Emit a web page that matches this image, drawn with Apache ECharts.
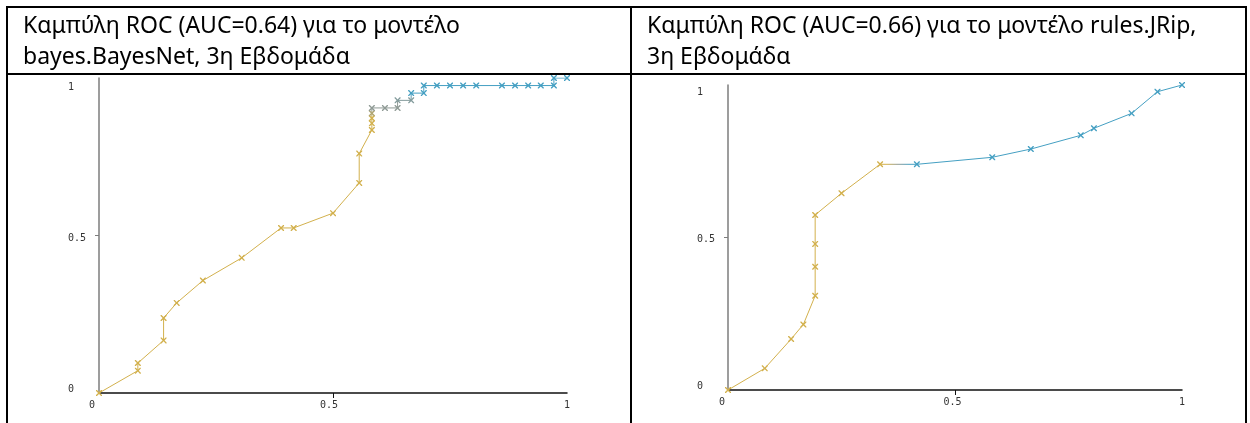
<!DOCTYPE html>
<html>
<head>
<meta charset="utf-8">
<script src="https://cdn.jsdelivr.net/npm/echarts@6/dist/echarts.min.js"></script>
<style>
  html, body { margin: 0; padding: 0; background: #fff; }
  #chart { width: 1250px; height: 423px; }
</style>
</head>
<body>
<div id="chart"></div>
<script>
// Cell headings
const bayesTitle = 'Καμπύλη ROC (AUC=0.64) για το μοντέλο\nbayes.BayesNet, 3η Εβδομάδα';
const jripTitle = 'Καμπύλη ROC (AUC=0.66) για το μοντέλο rules.JRip,\n3η Εβδομάδα';

// Axis ticks shared by both plots
const axisTickValues = [0, 0.5, 1];

// bayes.BayesNet threshold curve (false positive rate, true positive rate)
const bayesFpr = [0, 0.083, 0.083, 0.138, 0.138, 0.166, 0.222, 0.305, 0.389, 0.416, 0.5, 0.556, 0.556,
  0.583, 0.583, 0.583, 0.583, 0.583, 0.611, 0.638, 0.638, 0.667, 0.667, 0.694, 0.694, 0.722, 0.75,
  0.778, 0.806, 0.861, 0.889, 0.917, 0.944, 0.972, 0.972, 1];
const bayesTpr = [0, 0.071, 0.095, 0.167, 0.238, 0.286, 0.357, 0.429, 0.524, 0.524, 0.571, 0.667, 0.76,
  0.835, 0.856, 0.872, 0.888, 0.905, 0.905, 0.905, 0.929, 0.929, 0.952, 0.952, 0.976, 0.976, 0.976,
  0.976, 0.976, 0.976, 0.976, 0.976, 0.976, 0.976, 1, 1];

// rules.JRip threshold curve
const jripFpr = [0, 0.081, 0.139, 0.166, 0.192, 0.192, 0.192, 0.192, 0.25, 0.335, 0.416, 0.582, 0.667,
  0.777, 0.806, 0.889, 0.946, 1];
const jripTpr = [0, 0.071, 0.167, 0.215, 0.309, 0.404, 0.479, 0.574, 0.645, 0.74, 0.74, 0.763, 0.79,
  0.835, 0.858, 0.907, 0.978, 1];

const YELLOW = '#d2b04c';
const GRAY = '#8f9a95';
const BLUE = '#449fc2';

// colour ramp: yellow for low values, passing through grey into blue
function ramp(steps, yellowUntil, blueFrom) {
  const out = [];
  for (let i = 0; i <= steps; i++) {
    const v = i / steps;
    out.push(v <= yellowUntil + 1e-9 ? YELLOW : (v >= blueFrom - 1e-9 ? BLUE : GRAY));
  }
  return out;
}

const zip = (xs, ys) => xs.map((x, i) => [x, ys[i]]);

// small "x" marker
const crossSymbol = 'path://M0,0L1.6,0L5,3.4L8.4,0L10,0L10,1.6L6.6,5L10,8.4L10,10L8.4,10L5,6.6L1.6,10L0,10L0,8.4L3.4,5L0,1.6Z';

const labelFont = { fontFamily: 'DejaVu Sans Mono', fontSize: 10, color: '#333' };

function richLabels(shift) {
  // shift: per tick label offsets expressed as paddings
  const r = {};
  Object.keys(shift).forEach(k => { r[k] = Object.assign({ padding: shift[k] }, labelFont); });
  return r;
}
const keyOf = v => (v === 0 ? 'lo' : (v === 1 ? 'hi' : 'mid'));

function makeXAxis(gridIndex, pads) {
  return {
    gridIndex, type: 'value', min: 0, max: 1, interval: 0.5,
    axisLine: { show: true, lineStyle: { color: '#111', width: 1.5 } },
    axisTick: { show: true, length: 5, customValues: [0.5], lineStyle: { color: '#111', width: 1 } },
    axisLabel: {
      show: true, margin: 7, customValues: axisTickValues,
      formatter: v => '{' + keyOf(v) + '|' + v + '}',
      rich: richLabels(pads)
    },
    splitLine: { show: false }
  };
}
function makeYAxis(gridIndex, pads) {
  return {
    gridIndex, type: 'value', min: 0, max: 1, interval: 0.5,
    axisLine: { show: true, lineStyle: { color: '#7d7d7d', width: 1.5 } },
    axisTick: { show: true, length: 4, customValues: [0.5], lineStyle: { color: '#7d7d7d', width: 1 } },
    axisLabel: {
      show: true, margin: 31, align: 'left', customValues: axisTickValues,
      formatter: v => '{' + keyOf(v) + '|' + v + '}',
      rich: richLabels(pads)
    },
    splitLine: { show: false }
  };
}

function rocSeries(idx, data) {
  return {
    type: 'line', xAxisIndex: idx, yAxisIndex: idx, data,
    symbol: crossSymbol, symbolSize: 6, showAllSymbol: true,
    lineStyle: { width: 1 },
    emphasis: { disabled: true },
    animation: false
  };
}

const border = (x1, y1, x2, y2) => ({
  type: 'line', shape: { x1, y1, x2, y2 },
  style: { stroke: '#000', lineWidth: 2 }, silent: true
});

const titleStyle = {
  fontFamily: 'Noto Sans', fontSize: 23, fontWeight: 'normal', color: '#000', lineHeight: 31
};

const chart = echarts.init(document.getElementById('chart'), null, { renderer: 'canvas' });
chart.setOption({
  backgroundColor: '#fff',
  animation: false,
  title: [
    { text: bayesTitle, left: 23, top: 11, padding: 0, textStyle: titleStyle },
    { text: jripTitle, left: 647, top: 11, padding: 0, textStyle: titleStyle }
  ],
  grid: [
    { left: 99, top: 78, width: 468, height: 315 },
    { left: 728, top: 85, width: 454, height: 305 }
  ],
  xAxis: [
    makeXAxis(0, { lo: [0, 14, 0, 0], mid: [0, 8, 0, 0], hi: [0, 0, 0, 0] }),
    makeXAxis(1, { lo: [0, 12, 0, 0], mid: [0, 5, 0, 0], hi: [0, 0, 0, 0] })
  ],
  yAxis: [
    makeYAxis(0, { lo: [0, 0, 8, 0], mid: [5, 0, 0, 0], hi: [18, 0, 0, 0] }),
    makeYAxis(1, { lo: [0, 0, 7, 0], mid: [4, 0, 0, 0], hi: [15, 0, 0, 0] })
  ],
  visualMap: [
    { type: 'continuous', show: false, seriesIndex: 0, dimension: 1, min: 0, max: 1,
      inRange: { color: ramp(40, 0.875, 0.95) } },
    { type: 'continuous', show: false, seriesIndex: 1, dimension: 0, min: 0, max: 1,
      inRange: { color: ramp(40, 0.35, 0.4) } }
  ],
  series: [
    rocSeries(0, zip(bayesFpr, bayesTpr)),
    rocSeries(1, zip(jripFpr, jripTpr))
  ],
  graphic: [
    border(6, 7, 1247, 7),
    border(6, 74, 1247, 74),
    border(7, 6, 7, 423),
    border(631, 6, 631, 423),
    border(1246, 6, 1246, 423)
  ]
});
</script>
</body>
</html>
